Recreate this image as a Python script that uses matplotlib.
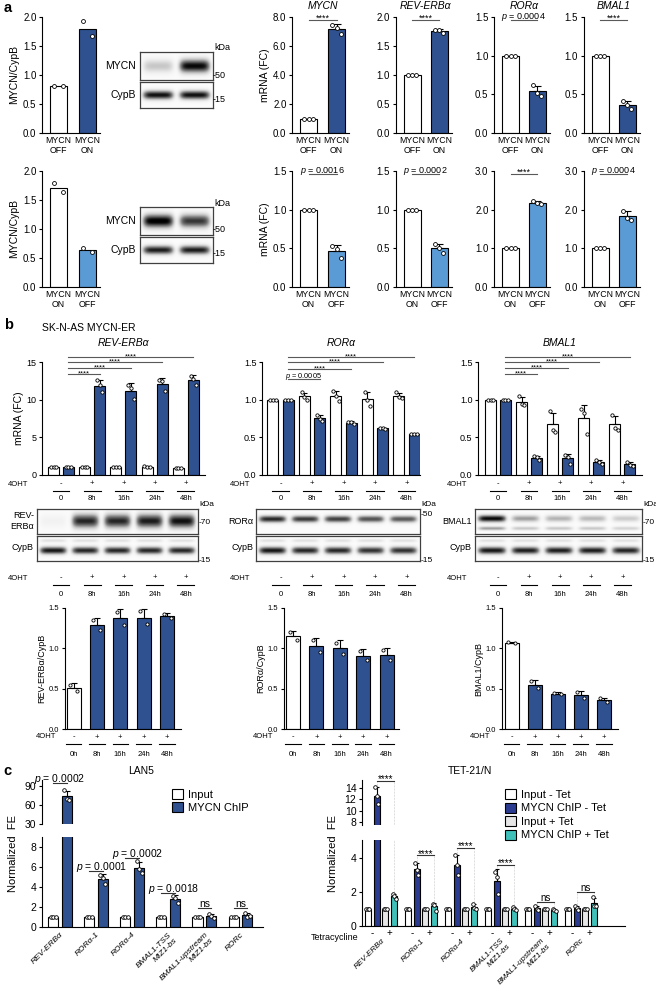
import numpy as np
import matplotlib
matplotlib.use('Agg')
import matplotlib.pyplot as plt
from matplotlib.patches import Patch
from matplotlib.transforms import blended_transform_factory

plt.rcParams['font.family'] = ['Liberation Sans', 'DejaVu Sans']
plt.rcParams['mathtext.fontset'] = 'custom'
plt.rcParams['mathtext.it'] = 'Liberation Sans:italic'
plt.rcParams['mathtext.rm'] = 'Liberation Sans'

# ---------------- data ----------------
# panel a: MYCN OFF -> ON (top row), MYCN ON -> OFF (bottom row)
a1_ticks = ['MYCN\nOFF', 'MYCN\nON']
a2_ticks = ['MYCN\nON', 'MYCN\nOFF']
a1_prot = [[0.81, 0.81], [1.93, 1.67]]
a2_prot = [[1.79, 1.64], [0.67, 0.60]]
a1_blot_mycn = [0.30, 0.95]
a2_blot_mycn = [1.00, 0.80]
a1_blot_cypb = [0.92, 0.92]
a2_blot_cypb = [0.88, 0.88]

a_genes = ['MYCN', 'REV-ERBα', 'RORα', 'BMAL1']
a1_mrna = [[[1.0, 1.0, 1.0], [7.45, 7.25, 6.85]],
           [[1.0, 1.0, 1.0], [1.78, 1.77, 1.73]],
           [[1.0, 1.0, 1.0], [0.62, 0.52, 0.48]],
           [[1.0, 1.0, 1.0], [0.42, 0.36, 0.31]]]
a2_mrna = [[[1.0, 1.0, 1.0], [0.53, 0.49, 0.37]],
           [[1.0, 1.0, 1.0], [0.56, 0.50, 0.44]],
           [[1.0, 1.0, 1.0], [2.22, 2.16, 2.14]],
           [[1.0, 1.0, 1.0], [1.97, 1.78, 1.74]]]
a1_ymax = [8.0, 2.0, 1.5, 1.5]
a1_ystep = [2.0, 0.5, 0.5, 0.5]
a2_ymax = [1.5, 1.5, 3.0, 3.0]
a2_ystep = [0.5, 0.5, 1.0, 1.0]
a1_sig = ['****', '****', '$p$ = 0.0004', '****']
a2_sig = ['$p$ = 0.0016', '$p$ = 0.0002', '****', '$p$ = 0.0004']

# panel b: SK-N-AS MYCN-ER time course
b_genes = ['REV-ERBα', 'RORα', 'BMAL1']
b_blot_names = ['REV-\nERBα', 'RORα', 'BMAL1']
b_kda = ['70', '50', '70']
b_signs = ['-', '+', '+', '+', '+']
b_times = ['0', '8h', '16h', '24h', '48h']
b_times_h = ['0h', '8h', '16h', '24h', '48h']
b_ctrl = [
    [[1.0, 1.0, 1.0], [1.1, 1.0, 1.0], [1.0, 1.0, 1.0], [1.2, 1.1, 1.05], [0.95, 0.9, 0.95]],
    [[1.0, 1.0, 1.0], [1.1, 1.03, 1.0], [1.12, 1.05, 0.98], [1.1, 1.0, 0.92], [1.1, 1.04, 1.02]],
    [[1.0, 1.0, 1.0], [1.05, 0.94, 0.93], [0.85, 0.6, 0.57], [0.88, 0.82, 0.55], [0.8, 0.62, 0.6]],
]
b_mycn = [
    [[1.0, 1.0, 1.0], [12.6, 12.0, 11.0], [12.0, 11.5, 10.1], [12.6, 12.5, 11.2], [13.1, 12.8, 11.9]],
    [[1.0, 1.0, 1.0], [0.8, 0.74, 0.72], [0.71, 0.70, 0.68], [0.63, 0.62, 0.61], [0.55, 0.54, 0.54]],
    [[1.0, 1.0, 1.0], [0.25, 0.24, 0.2], [0.27, 0.24, 0.15], [0.2, 0.17, 0.14], [0.17, 0.13, 0.12]],
]
b_ymax = [15, 1.5, 1.5]
b_ystep = [5, 0.5, 0.5]
b_sig = [['****'] * 4, ['$p$ = 0.0005', '****', '****', '****'], ['****'] * 4]
b_blot = [[0.08, 0.85, 0.85, 0.88, 0.92],
          [0.85, 0.80, 0.78, 0.72, 0.70],
          [0.95, 0.45, 0.38, 0.36, 0.28]]
b_blot_low = [None, None, [0.45, 0.30, 0.30, 0.30, 0.25]]
b_blot_cypb = [[0.90, 0.85, 0.85, 0.85, 0.85],
               [0.90, 0.85, 0.85, 0.82, 0.82],
               [0.90, 0.88, 0.88, 0.88, 0.86]]
b_ratio = [
    [[0.55, 0.47], [1.35, 1.23], [1.45, 1.29], [1.46, 1.30], [1.43, 1.37]],
    [[1.20, 1.10], [1.10, 0.96], [1.07, 0.93], [0.97, 0.85], [0.98, 0.86]],
    [[1.075, 1.065], [0.59, 0.51], [0.45, 0.43], [0.46, 0.39], [0.38, 0.33]],
]
b_ratio_labels = ['REV-ERBα/CypB', 'RORα/CypB', 'BMAL1/CypB']

# panel c: ChIP
c_targets = ['REV-ERBα', 'RORα-1', 'RORα-4', 'BMAL1-TSS\nMIZ1-bs',
             'BMAL1-upstream\nMIZ1-bs', 'RORc']
lan5_input = [[1.0, 1.0, 1.0]] * 6
lan5_chip = [[84, 70, 68], [5.2, 4.9, 4.3], [6.6, 5.8, 5.4],
             [3.1, 2.9, 2.4], [1.3, 1.1, 0.95], [1.4, 1.0, 1.1]]
lan5_sig = ['$p$ = 0.0002', '$p$ = 0.0001', '$p$ = 0.0002', '$p$ = 0.0018', 'ns', 'ns']
lan5_legend = ['Input', 'MYCN ChIP']
tet_input_m = [[1.0, 1.0, 1.0]] * 6
tet_chip_m = [[14.2, 12.6, 11.1], [3.7, 3.3, 3.0], [4.2, 3.6, 3.0],
              [3.2, 2.9, 1.9], [1.2, 1.0, 0.95], [1.2, 1.05, 0.95]]
tet_input_p = [[1.0, 1.0, 1.0]] * 6
tet_chip_p = [[1.9, 1.75, 1.6], [1.3, 1.25, 0.9], [1.3, 1.05, 1.0],
              [1.1, 1.0, 0.95], [1.0, 0.95, 0.9], [1.7, 1.2, 1.15]]
tet_sig = ['****'] * 4 + ['ns', 'ns']
tet_legend = ['Input - Tet', 'MYCN ChIP - Tet', 'Input + Tet', 'MYCN ChIP + Tet']

# ---------------- style ----------------
DARK = '#2f5190'
LIGHT = '#5b9bd5'
NAVY = '#2b3b8f'
TEAL = '#3fc0b8'
GRAY = '#e6e6e6'

W, H = 656, 992
fig = plt.figure(figsize=(W / 100, H / 100), dpi=100)


def fy(y):
    return 1 - y / H


def px_ax(x0, y0, x1, y1):
    return fig.add_axes([x0 / W, 1 - y1 / H, (x1 - x0) / W, (y1 - y0) / H])


def prism(ax, fs=7):
    for s in ['top', 'right']:
        ax.spines[s].set_visible(False)
    for s in ['left', 'bottom']:
        ax.spines[s].set_linewidth(0.8)
    ax.tick_params(axis='y', length=2.5, width=0.8, labelsize=fs, pad=1.5)
    ax.tick_params(axis='x', length=0, labelsize=fs, pad=2)


def bar_pts(ax, x, vals, color, width, err=True, cap=2.5, ms=2.6, clip=False):
    m = np.mean(vals)
    ax.bar(x, m, width, color=color, edgecolor='black', linewidth=0.8, zorder=2)
    if err:
        sd = np.std(vals, ddof=1)
        ax.errorbar(x, m, yerr=[[0], [sd]], fmt='none', ecolor='black',
                    elinewidth=0.8, capsize=cap, capthick=0.8, zorder=3)
    offs = np.linspace(-0.25, 0.25, len(vals)) * width
    ax.plot(x + offs, vals, 'o', mfc='white', mec='black', ms=ms, mew=0.6,
            zorder=4, clip_on=clip)


def sig(ax, xa, xb, y, txt, fs=6, color='0.35', dx=0):
    ax.plot([xa, xb], [y, y], color=color, lw=0.8, clip_on=False, zorder=5)
    dy = -1.2 if '*' in txt else 0.6
    ax.annotate(txt, ((xa + xb) / 2, y), xytext=(dx, dy), textcoords='offset points',
                ha='center', va='baseline', fontsize=fs, annotation_clip=False)


def blot(x0, y0, x1, y1, levels, thick=0.22, yc=0.5, low=None, ghost=0.0):
    ax = px_ax(x0, y0, x1, y1)
    n = len(levels)
    X, Y = np.meshgrid(np.linspace(0, n, 300), np.linspace(0, 1, 60))
    img = np.full(X.shape, 0.03)
    for i, lv in enumerate(levels):
        h = np.exp(-((X - i - 0.5) / 0.42) ** 6)
        img += lv * h * np.exp(-((Y - yc) / thick) ** 2)
        if low is not None:
            img += low[i] * h * np.exp(-((Y - 0.22) / 0.08) ** 2)
        if ghost:
            img += ghost * h * np.exp(-((Y - 0.82) / 0.07) ** 2)
    ax.imshow(np.clip(img, 0, 1), cmap='Greys', vmin=0, vmax=1, extent=(0, n, 0, 1),
              aspect='auto', origin='lower', interpolation='bilinear')
    ax.set_xticks([])
    ax.set_yticks([])
    for s in ax.spines.values():
        s.set_linewidth(0.9)
        s.set_edgecolor('0.25')
    return ax


def time_rows(ax, xs, half, ys, yl, yt, fs, lab_x, times):
    tr = blended_transform_factory(ax.transData, fig.transFigure)
    for x, s, t in zip(xs, b_signs, times):
        ax.text(x, fy(ys), s, transform=tr, ha='center', va='center', fontsize=fs)
        ax.plot([x - half, x + half], [fy(yl)] * 2, transform=tr, color='black',
                lw=0.8, clip_on=False)
        ax.text(x, fy(yt), t, transform=tr, ha='center', va='center', fontsize=fs)
    fig.text(lab_x / W, fy(ys), '4OHT', ha='left', va='center', fontsize=fs)


# ---------------- panel a ----------------
fig.text(4 / W, fy(8), 'a', fontsize=10.5, fontweight='bold', va='center')
a_left_px = (58.5, 87.5)
a_off_px = [308.5, 412, 510.5, 600]
a_on_px = [336.5, 439, 537, 627]
a_rows = [
    (17, 133, DARK, a1_ticks, a1_prot, a1_blot_mycn, a1_blot_cypb, a1_mrna, a1_ymax, a1_ystep, a1_sig, 52),
    (171, 287, LIGHT, a2_ticks, a2_prot, a2_blot_mycn, a2_blot_cypb, a2_mrna, a2_ymax, a2_ystep, a2_sig, 207),
]


def pair_chart(c0, c1, top, bot, groups, ymax, ystep, ticks, color, err):
    d = c1 - c0
    ax = px_ax(c0 - 16.5, top, c1 + 12.5, bot)
    prism(ax, 7)
    for i, vals in enumerate(groups):
        bar_pts(ax, i, vals, ['white', color][i], 17 / d, err=err, cap=3, ms=2.8)
    ax.set_xlim(-16.5 / d, 1 + 12.5 / d)
    ax.set_ylim(0, ymax)
    ax.set_yticks(np.arange(0, ymax + 1e-9, ystep))
    ax.yaxis.set_major_formatter('{x:.1f}')
    ax.set_xticks([0, 1])
    ax.set_xticklabels(ticks, linespacing=1.15, fontsize=6.3)
    return ax


for (top, bot, col, ticks, prot, bm, bc, mrna, ymax, ystep, sigs, by) in a_rows:
    ax = pair_chart(a_left_px[0], a_left_px[1], top, bot, prot, 2.0, 0.5, ticks, col, False)
    ax.set_ylabel('MYCN/CypB', fontsize=7.5, labelpad=3)
    blot(140, by, 213, by + 28, bm, thick=0.24)
    blot(140, by + 30, 213, by + 56, bc, thick=0.17)
    fig.text(136 / W, fy(by + 14), 'MYCN', ha='right', va='center', fontsize=7.5)
    fig.text(136 / W, fy(by + 43), 'CypB', ha='right', va='center', fontsize=7.5)
    fig.text(214 / W, fy(by - 4), 'kDa', ha='left', va='center', fontsize=6.5)
    fig.text(213 / W, fy(by + 23), '-50', ha='left', va='center', fontsize=6.5)
    fig.text(213 / W, fy(by + 47), '-15', ha='left', va='center', fontsize=6.5)
    for g in range(4):
        ax = pair_chart(a_off_px[g], a_on_px[g], top, bot, mrna[g], ymax[g], ystep[g],
                        ticks, col, True)
        if g == 0:
            ax.set_ylabel('mRNA (FC)', fontsize=7.5, labelpad=2)
        sig(ax, 0, 1, ymax[g] * (1 - 2.5 / (bot - top)), sigs[g], fs=6.5)
        if top == 17:
            fig.text((a_off_px[g] + a_on_px[g]) / 2 / W, fy(6), a_genes[g],
                     style='italic', ha='center', va='center', fontsize=7.5)

# ---------------- panel b ----------------
fig.text(4 / W, fy(325), 'b', fontsize=10.5, fontweight='bold', va='center')
fig.text(42 / W, fy(328), 'SK-N-AS MYCN-ER', ha='left', va='center', fontsize=7.5)
b_top_x = [(42, 205), (262, 420), (478, 642)]
b_pair0 = [61, 280.5, 498]
b_pair_dx = [31.2, 31.5, 31.1]
b_lab_x = [8, 230, 447]
b_sig_y = [[13.4, 14.2, 15.0, 15.66], [1.28, 1.41, 1.50, 1.566], [1.34, 1.42, 1.50, 1.566]]
b_blot_x = [(37, 198), (256, 420), (475, 642)]
b_rat_x = [(65, 181), (284, 399), (502, 618)]
b_rat_c0 = [73.5, 293, 511.5]
b_rat_dx = [23.4, 23.4, 23.1]
b_rat_lab_x = [36, 253, 470]

for g in range(3):
    x0, x1 = b_top_x[g]
    c, d = b_pair0[g], b_pair_dx[g]
    ax = px_ax(x0, 362, x1, 475)
    prism(ax, 6.5)
    for k in range(5):
        bar_pts(ax, k - 0.24, b_ctrl[g][k], 'white', 11 / d, cap=2.2, ms=2.4)
        bar_pts(ax, k + 0.24, b_mycn[g][k], DARK, 11 / d, cap=2.2, ms=2.4)
    ax.set_xlim((x0 - c) / d, (x1 - c) / d)
    ax.set_ylim(0, b_ymax[g])
    ax.set_yticks(np.arange(0, b_ymax[g] + 1e-9, b_ystep[g]))
    if g == 0:
        ax.yaxis.set_major_formatter('{x:.0f}')
        ax.set_ylabel('mRNA (FC)', fontsize=7.5, labelpad=2)
    else:
        ax.yaxis.set_major_formatter('{x:.1f}')
    ax.set_xticks([])
    for k in range(4):
        txt = b_sig[g][k]
        sig(ax, 0.24, k + 1.24, b_sig_y[g][k], txt, fs=5.3 if '*' not in txt else 5.5)
    fig.text((x0 + x1) / 2 / W, fy(343), b_genes[g], style='italic', ha='center',
             va='center', fontsize=7.5)
    xs = np.arange(5)
    time_rows(ax, xs, 0.27, 484, 491, 498, 5.5, b_lab_x[g], b_times)
    time_rows(ax, xs, 0.27, 578, 585, 594, 5.5, b_lab_x[g], b_times)

    # blots
    bx0, bx1 = b_blot_x[g]
    thick = [0.28, 0.14, 0.14][g]
    yc = [0.52, 0.6, 0.62][g]
    blot(bx0, 509, bx1, 534, b_blot[g], thick=thick, yc=yc, low=b_blot_low[g])
    blot(bx0, 536, bx1, 561, b_blot_cypb[g], thick=0.15, yc=0.42, ghost=0.18)
    fig.text((bx0 - 3) / W, fy(521), b_blot_names[g], ha='right', va='center',
             fontsize=6.5, linespacing=1.3)
    fig.text((bx0 - 3) / W, fy(548), 'CypB', ha='right', va='center', fontsize=6.5)
    fig.text((bx1 + 1) / W, fy(505), 'kDa', ha='left', va='center', fontsize=6)
    fig.text((bx1 + 1) / W, fy(523 if b_kda[g] == '70' else 514), '-' + b_kda[g],
             ha='left', va='center', fontsize=6)
    fig.text((bx1 + 1) / W, fy(561), '-15', ha='left', va='center', fontsize=6)

    # quantification
    rx0, rx1 = b_rat_x[g]
    rc, rd = b_rat_c0[g], b_rat_dx[g]
    ax = px_ax(rx0, 608, rx1, 729)
    prism(ax, 5.5)
    for k in range(5):
        bar_pts(ax, k, b_ratio[g][k], 'white' if k == 0 else DARK, 14 / rd,
                cap=2.2, ms=2.3)
    ax.set_xlim((rx0 - rc) / rd, (rx1 - rc) / rd)
    ax.set_ylim(0, 1.5)
    ax.set_yticks([0, 0.5, 1.0, 1.5])
    ax.yaxis.set_major_formatter('{x:.1f}')
    ax.set_xticks([])
    ax.set_ylabel(b_ratio_labels[g], fontsize=6.5, labelpad=2)
    time_rows(ax, np.arange(5), 0.33, 737, 744, 755, 5.5, b_rat_lab_x[g], b_times_h)

# ---------------- panel c ----------------
fig.text(3 / W, fy(771), 'c', fontsize=10.5, fontweight='bold', va='center')


def broken(xl, xr, c0, d, up_px, lo_px, up_lim, lo_lim, up_ticks, lo_ticks):
    axu = px_ax(xl, up_px[0], xr, up_px[1])
    axl = px_ax(xl, lo_px[0], xr, lo_px[1])
    for a in (axu, axl):
        prism(a, 7.5)
        a.set_xlim((xl - c0) / d, (xr - c0) / d)
    axu.spines['bottom'].set_visible(False)
    axu.set_xticks([])
    axu.set_ylim(*up_lim)
    axl.set_ylim(*lo_lim)
    axu.set_yticks(up_ticks)
    axl.set_yticks(lo_ticks)
    return axu, axl


# LAN5
lan_u, lan_l = broken(42, 263, 60, 36.1, (780, 824), (837, 927), (30, 100), (0, 9),
                      [30, 60, 90], [0, 2, 4, 6, 8])
lan_series = [lan5_input, lan5_chip]
lan_cols = ['white', DARK]
lan_offs = [-0.19, 0.19]
for a in (lan_u, lan_l):
    for s in range(2):
        for gi in range(6):
            bar_pts(a, gi + lan_offs[s], lan_series[s][gi], lan_cols[s], 0.28,
                    cap=2.2, ms=2.6, clip=True)
lan_sig_y = [96, 5.6, 6.9, 3.4, 1.9, 1.9]
for gi in range(6):
    a = lan_u if gi == 0 else lan_l
    shift = 4 if gi in (1, 2, 3) else 0
    sig(a, gi - 0.19, gi + 0.19, lan_sig_y[gi], lan5_sig[gi], fs=7.5, color='0.2', dx=shift)
lan_l.set_xticks(range(6))
lan_l.set_xticklabels(c_targets, rotation=45, ha='right', rotation_mode='anchor',
                      fontstyle='italic', fontsize=6)
lan_l.tick_params(axis='x', pad=3)
fig.text(141 / W, fy(771), 'LAN5', ha='center', va='center', fontsize=7.5)
fig.text(13 / W, fy(853), 'Normalized  FE', rotation=90, ha='center', va='center',
         fontsize=8)
fig.legend(handles=[Patch(facecolor=c, edgecolor='black', lw=0.8, label=l)
                    for c, l in zip(lan_cols, lan5_legend)],
           loc='upper left', bbox_to_anchor=(172 / W, fy(789)), frameon=False,
           fontsize=8, handlelength=1.0, handleheight=1.0, handletextpad=0.4,
           labelspacing=0.2, borderaxespad=0, borderpad=0)

# TET-21/N
tet_u, tet_l = broken(362, 625, 381, 40, (780, 825), (840, 926), (7.5, 15.4), (0, 5.06),
                      [8, 10, 12, 14], [0, 2, 4])
tet_series = [tet_input_m, tet_chip_m, tet_input_p, tet_chip_p]
tet_cols = ['white', NAVY, GRAY, TEAL]
tet_offs = [-0.33, -0.11, 0.11, 0.33]
for a in (tet_u, tet_l):
    for s in range(4):
        for gi in range(6):
            bar_pts(a, gi + tet_offs[s], tet_series[s][gi], tet_cols[s], 0.15,
                    cap=1.6, ms=2.6, clip=True)
tet_sig_y = [15.26, 4.18, 4.6, 3.6, 1.41, 2.0]
for gi in range(6):
    a = tet_u if gi == 0 else tet_l
    sig(a, gi - 0.11, gi + 0.33, tet_sig_y[gi], tet_sig[gi], fs=7, color='0.2')
    # faint connectors from the comparison line down to both bars
    for s in (1, 3):
        vals = tet_series[s][gi]
        y_top = np.mean(vals) + np.std(vals, ddof=1)
        for a2 in (tet_u, tet_l):
            a2.plot([gi + tet_offs[s]] * 2, [y_top, tet_sig_y[gi]], color='0.6',
                    lw=0.4, ls=':', zorder=1)
tr = blended_transform_factory(tet_l.transData, fig.transFigure)
for gi in range(6):
    tet_l.text(gi - 0.22, fy(933), '-', transform=tr, ha='center', va='center', fontsize=7)
    tet_l.text(gi + 0.22, fy(933), '+', transform=tr, ha='center', va='center', fontsize=7)
fig.text(358 / W, fy(937), 'Tetracycline', ha='right', va='center', fontsize=6.5)
tet_l.set_xticks(range(6))
tet_l.set_xticklabels(c_targets, rotation=45, ha='right', rotation_mode='anchor',
                      fontstyle='italic', fontsize=5.8)
tet_l.tick_params(axis='x', pad=8)
fig.text(470 / W, fy(771), 'TET-21/N', ha='center', va='center', fontsize=7.5)
fig.text(333 / W, fy(853), 'Normalized  FE', rotation=90, ha='center', va='center',
         fontsize=8)
fig.legend(handles=[Patch(facecolor=c, edgecolor='black', lw=0.8, label=l)
                    for c, l in zip(tet_cols, tet_legend)],
           loc='upper left', bbox_to_anchor=(505 / W, fy(789)), frameon=False,
           fontsize=8, handlelength=1.0, handleheight=1.0, handletextpad=0.4,
           labelspacing=0.25, borderaxespad=0, borderpad=0)

fig.savefig('out.png', dpi=100)
